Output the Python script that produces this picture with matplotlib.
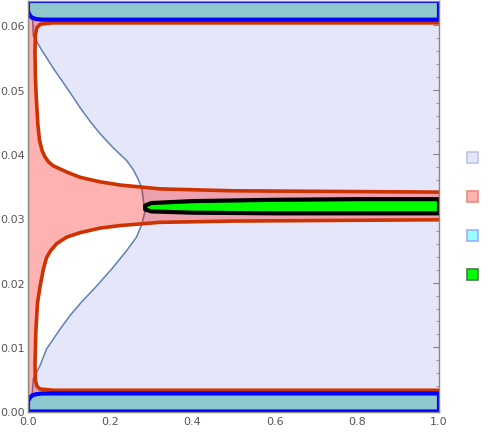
import numpy as np
import matplotlib
matplotlib.use("Agg")
import matplotlib.pyplot as plt
from matplotlib.path import Path
from matplotlib.patches import PathPatch, Rectangle

# plot range
x_min, x_max = 0.0, 1.0
y_min, y_max = 0.0, 0.0638

# boundary of the lavender region (steel blue curve), top to bottom
curve_x = [0.009, 0.013, 0.035, 0.062, 0.102, 0.127, 0.151, 0.175, 0.207, 0.240,
           0.256, 0.268, 0.277, 0.282, 0.285, 0.277, 0.264, 0.240, 0.207, 0.167,
           0.130, 0.102, 0.078, 0.045, 0.029, 0.013, 0.007]
curve_y = [0.0638, 0.0584, 0.0560, 0.0533, 0.0496, 0.0472, 0.0451, 0.0432, 0.0410, 0.0390,
           0.0376, 0.0361, 0.0347, 0.0322, 0.0312, 0.0291, 0.0271, 0.0250, 0.0224, 0.0195,
           0.0170, 0.0149, 0.0128, 0.0097, 0.0071, 0.0051, 0.0]

# upper hole in the red region
hole_up_x = [1.0, 0.060, 0.030, 0.021, 0.018, 0.017, 0.018, 0.020, 0.022, 0.024,
             0.028, 0.034, 0.041, 0.050, 0.061, 0.095, 0.127, 0.175, 0.224, 0.321,
             0.500, 0.750, 1.0]
hole_up_y = [0.0604, 0.0604, 0.0602, 0.0596, 0.0585, 0.0560, 0.0520, 0.0490, 0.0468, 0.0446,
             0.0422, 0.0406, 0.0396, 0.0388, 0.0382, 0.0372, 0.0364, 0.0357, 0.0352, 0.0346,
             0.0343, 0.0342, 0.0341]

# lower hole in the red region
hole_lo_x = [1.0, 0.750, 0.500, 0.321, 0.224, 0.175, 0.127, 0.094, 0.070, 0.055,
             0.045, 0.037, 0.029, 0.023, 0.019, 0.017, 0.018, 0.022, 0.029, 0.061, 1.0]
hole_lo_y = [0.0298, 0.0297, 0.0296, 0.0294, 0.0289, 0.0285, 0.0278, 0.0271, 0.0261, 0.0250,
             0.0239, 0.0220, 0.0193, 0.0168, 0.0123, 0.0071, 0.0048, 0.0039, 0.0035, 0.0033, 0.0033]

# teal strips along top and bottom
strip_x = [0.0, 0.004, 0.010, 0.020, 0.035, 1.0]
strip_top_y = [0.0622, 0.0616, 0.0612, 0.0610, 0.0609, 0.0609]
strip_bot_y = [0.0016, 0.0021, 0.0025, 0.0027, 0.0028, 0.0028]

# green band
green_x = [0.285, 0.30, 0.40, 0.60, 0.80, 1.0]
green_top = [0.0320, 0.0324, 0.0327, 0.0329, 0.0330, 0.0330]
green_bot = [0.0314, 0.0311, 0.0309, 0.0308, 0.0308, 0.0308]

legend_face = ["#e6e6fa", "#ffb3b3", "#99ffff", "#00ff00"]
legend_edge = ["#bcc4e6", "#f08a80", "#99b0ff", "#4a7a4a"]


def ring(xs, ys, ccw=True):
    pts = np.column_stack([xs, ys])
    area = 0.5 * np.sum(pts[:-1, 0] * pts[1:, 1] - pts[1:, 0] * pts[:-1, 1])
    area += 0.5 * (pts[-1, 0] * pts[0, 1] - pts[0, 0] * pts[-1, 1])
    if (area > 0) != ccw:
        pts = pts[::-1]
    return pts


fig = plt.figure(figsize=(4.91, 4.35), dpi=100)
ax = fig.add_axes([28 / 491, 22.5 / 435, 411 / 491, 410.5 / 435])

# lavender everywhere, white inside the curve
ax.add_patch(Rectangle((x_min, y_min), x_max - x_min, y_max - y_min,
                       facecolor="#e6e6fa", edgecolor="none", zorder=1))
ax.fill([0.0] + curve_x + [0.0], [y_max] + curve_y + [y_min],
        facecolor="white", edgecolor="none", zorder=2)
ax.plot(curve_x, curve_y, color="#5e81b5", lw=1.1, zorder=3)

# red region = whole box minus two holes
outer = ring([x_min, x_max, x_max, x_min], [y_min, y_min, y_max, y_max], ccw=True)
h1 = ring(hole_up_x, hole_up_y, ccw=False)
h2 = ring(hole_lo_x, hole_lo_y, ccw=False)
verts, codes = [], []
for r in (outer, h1, h2):
    verts += list(r) + [r[0]]
    codes += [Path.MOVETO] + [Path.LINETO] * (len(r) - 1) + [Path.CLOSEPOLY]
ax.add_patch(PathPatch(Path(verts, codes), facecolor=(1.0, 0.01, 0.01), alpha=0.3,
                       edgecolor="none", zorder=4))
ax.plot(hole_up_x, hole_up_y, color="#cc3300", lw=2.6, zorder=5, solid_joinstyle="round")
ax.plot(hole_lo_x, hole_lo_y, color="#cc3300", lw=2.6, zorder=5, solid_joinstyle="round")
ax.plot([0.0, 0.0], [0.002, 0.062], color="#cc3300", lw=1.5, zorder=5)

# teal strips
ax.fill([x_min] + strip_x + [x_max], [y_max] + strip_top_y + [y_max],
        facecolor="#8fc7cf", edgecolor="#0000ff", lw=3, zorder=6)
ax.fill([x_min] + strip_x + [x_max], [y_min] + strip_bot_y + [y_min],
        facecolor="#8fc7cf", edgecolor="#0000ff", lw=3, zorder=6)

# green band
ax.fill(green_x + green_x[::-1], green_top + green_bot[::-1],
        facecolor="#00ff00", edgecolor="black", lw=3, joinstyle="round", zorder=7)

ax.set_xlim(x_min, x_max)
ax.set_ylim(y_min, y_max)
ax.set_xticks(np.arange(0, 1.01, 0.2))
ax.set_xticks(np.arange(0, 1.01, 0.05), minor=True)
ax.set_yticks(np.arange(0, 0.061, 0.01))
ax.set_yticks(np.arange(0, 0.0638, 0.002), minor=True)
ax.set_xticklabels(["0.0", "0.2", "0.4", "0.6", "0.8", "1.0"])
ax.set_yticklabels(["0.00", "0.01", "0.02", "0.03", "0.04", "0.05", "0.06"])
ax.tick_params(which="both", direction="in", top=True, right=True, colors="#888888",
               labelcolor="#555555", labelsize=8, pad=2)
ax.tick_params(axis="x", which="major", pad=3)
ax.tick_params(which="major", length=4, width=0.8)
ax.tick_params(which="minor", length=2.5, width=0.6)
for s in ax.spines.values():
    s.set_color("#888888")
    s.set_linewidth(1.0)
    s.set_zorder(10)

# legend swatches without labels
for i, (fc, ec) in enumerate(zip(legend_face, legend_edge)):
    cy = 158.5 + 39 * i
    fig.add_artist(Rectangle((467 / 491, (435 - cy - 5.5) / 435), 11 / 491, 11 / 435,
                             transform=fig.transFigure, facecolor=fc, edgecolor=ec, lw=1.2))

fig.savefig("out.png", dpi=100)
